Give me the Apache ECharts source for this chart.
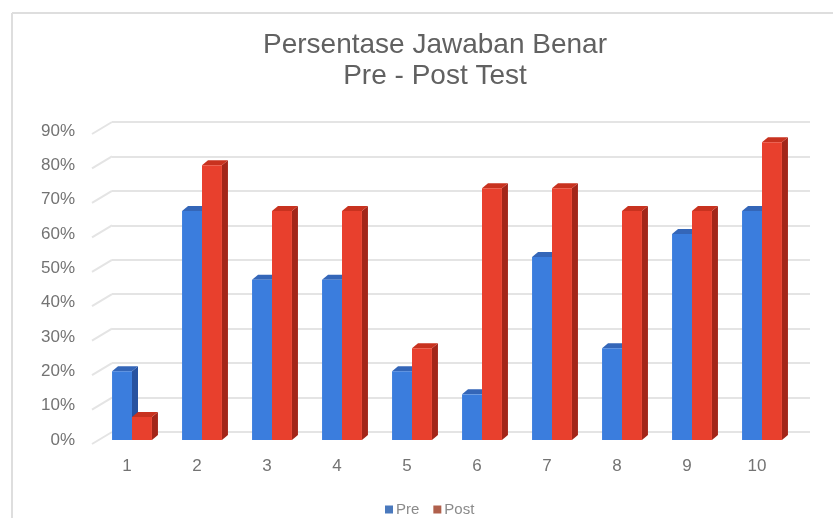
<!DOCTYPE html>
<html>
<head>
<meta charset="utf-8">
<script src="https://cdn.jsdelivr.net/npm/echarts@6/dist/echarts.min.js"></script>
<style>
  html, body { margin: 0; padding: 0; background: #fff; }
  #chart { width: 833px; height: 518px; }
</style>
</head>
<body>
<div id="chart"></div>
<script>
// 数据：题号与前后测正确率（%）
const categories = ['1', '2', '3', '4', '5', '6', '7', '8', '9', '10'];
const preValues = [20, 66.7, 46.7, 46.7, 20, 13.3, 53.3, 26.7, 60, 66.7];
const postValues = [6.7, 80, 66.7, 66.7, 26.7, 73.3, 73.3, 66.7, 66.7, 86.7];
const yTicks = [0, 10, 20, 30, 40, 50, 60, 70, 80, 90];

const fontFamily = 'Liberation Sans, Arial, sans-serif';

// 三个面的颜色：正面、顶面、侧面
const preColors = { front: '#3b7ddd', top: '#3466b8', side: '#2752a0' };
const postColors = { front: '#e8402d', top: '#c8321f', side: '#a3261a' };

/**
 * 生成伪3D柱子的 renderItem
 * @param {number} side - -1 表示左柱，0 表示右柱
 * @param {Object} colors - 面颜色
 */
function bar3d(side, colors) {
    return function (params, api) {
        const base = api.coord([api.value(0), 0]);
        const top = api.coord([api.value(0), api.value(1)]);
        const band = api.size([1, 0])[0];
        const w = band * 0.285;
        const x = base[0] + side * w;
        const y = top[1];
        const y0 = base[1];
        const dx = 6, dy = -5;
        return {
            type: 'group',
            children: [
                {
                    type: 'polygon',
                    shape: { points: [[x + w, y], [x + w + dx, y + dy], [x + w + dx, y0 + dy], [x + w, y0]] },
                    style: { fill: colors.side }
                },
                {
                    type: 'polygon',
                    shape: { points: [[x, y], [x + dx, y + dy], [x + w + dx, y + dy], [x + w, y]] },
                    style: { fill: colors.top }
                },
                {
                    type: 'rect',
                    shape: { x: x, y: y, width: w, height: y0 - y },
                    style: { fill: colors.front }
                }
            ]
        };
    };
}

// 后墙网格线左侧的斜线
function floorDiagonal(params, api) {
    const p = api.coord([0, api.value(0)]);
    return {
        type: 'line',
        shape: { x1: p[0], y1: p[1], x2: p[0] - 20, y2: p[1] + 12 },
        style: { stroke: '#e4e4e4', lineWidth: 2 }
    };
}

const chart = echarts.init(document.getElementById('chart'));

const option = {
    backgroundColor: '#fff',
    animation: false,
    title: {
        text: 'Persentase Jawaban Benar\nPre - Post Test',
        left: 430,
        top: 25,
        textAlign: 'center',
        textStyle: {
            fontFamily: fontFamily,
            fontSize: 28,
            fontWeight: 'normal',
            color: '#616161',
            lineHeight: 31
        }
    },
    legend: {
        data: ['Pre', 'Post'],
        left: 380,
        top: 497,
        icon: 'rect',
        itemWidth: 8,
        itemHeight: 8,
        itemGap: 14,
        textStyle: { fontFamily: fontFamily, fontSize: 15, color: '#8a8a8a', padding: [0, 0, 0, -2] }
    },
    graphic: [
        { type: 'line', shape: { x1: 12, y1: 13, x2: 833, y2: 13 }, style: { stroke: '#dedede', lineWidth: 2 } },
        { type: 'line', shape: { x1: 12, y1: 13, x2: 12, y2: 518 }, style: { stroke: '#dedede', lineWidth: 2 } }
    ],
    grid: [
        // 前面（柱子）
        { left: 97, right: 36, top: 131, bottom: 78 },
        // 后墙（网格线）
        { left: 112, right: 23, top: 122, bottom: 86 }
    ],
    xAxis: [
        {
            type: 'category',
            gridIndex: 0,
            data: categories,
            axisLine: { show: false },
            axisTick: { show: false },
            axisLabel: {
                margin: 18,
                fontFamily: fontFamily,
                fontSize: 17,
                color: '#737373',
                padding: [0, 10, 0, 0]
            }
        },
        { type: 'value', gridIndex: 1, min: 0, max: 1, show: false }
    ],
    yAxis: [
        {
            type: 'value',
            gridIndex: 0,
            min: 0,
            max: 90,
            interval: 10,
            axisLine: { show: false },
            axisTick: { show: false },
            splitLine: { show: false },
            axisLabel: {
                margin: 22,
                fontFamily: fontFamily,
                fontSize: 17,
                color: '#737373',
                padding: [8, 0, 0, 0],
                formatter: '{value}%'
            }
        },
        {
            type: 'value',
            gridIndex: 1,
            min: 0,
            max: 90,
            interval: 10,
            axisLine: { show: false },
            axisTick: { show: false },
            axisLabel: { show: false },
            splitLine: { lineStyle: { color: '#e4e4e4', width: 2 } }
        }
    ],
    series: [
        {
            type: 'custom',
            name: 'Diag',
            xAxisIndex: 1,
            yAxisIndex: 1,
            renderItem: floorDiagonal,
            data: yTicks.map(v => [v]),
            encode: { y: 0 },
            silent: true,
            z: 1
        },
        {
            type: 'custom',
            name: 'Pre',
            xAxisIndex: 0,
            yAxisIndex: 0,
            renderItem: bar3d(-1, preColors),
            data: preValues.map((v, i) => [i, v]),
            encode: { x: 0, y: 1 },
            itemStyle: { color: '#4a79bd' },
            z: 2
        },
        {
            type: 'custom',
            name: 'Post',
            xAxisIndex: 0,
            yAxisIndex: 0,
            renderItem: bar3d(0, postColors),
            data: postValues.map((v, i) => [i, v]),
            encode: { x: 0, y: 1 },
            itemStyle: { color: '#b0604c' },
            z: 3
        }
    ]
};

chart.setOption(option);
</script>
</body>
</html>
